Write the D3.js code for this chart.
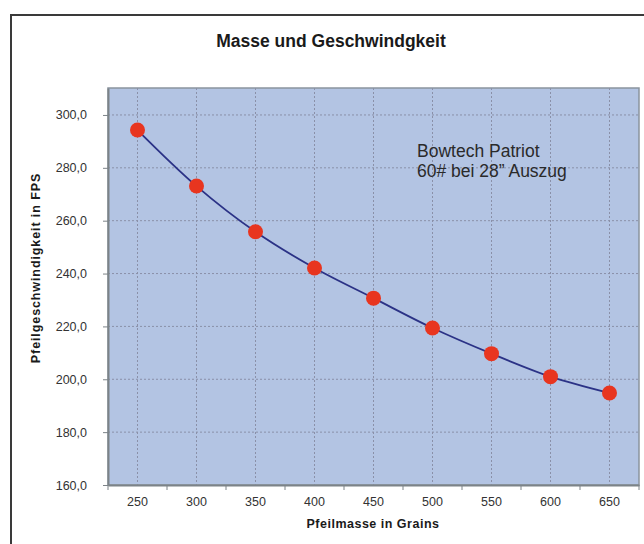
<!DOCTYPE html>
<html>
<head>
<meta charset="utf-8">
<script src="https://cdn.jsdelivr.net/npm/d3@7"></script>
<style>
  body { margin: 0; background: #fff; }
  text { font-family: "Liberation Sans", Arial, sans-serif; }
</style>
</head>
<body>
<div id="chart"></div>
<script>
// Data
const masses = [250, 300, 350, 400, 450, 500, 550, 600, 650];
const speeds = [294.3, 273.1, 255.8, 242.1, 230.7, 219.4, 209.7, 201.0, 194.8];
const yTicks = [160, 180, 200, 220, 240, 260, 280, 300];

const width = 644, height = 544;
const margin = { top: 88, right: 5, bottom: 59, left: 108 };
const innerW = width - margin.left - margin.right;
const innerH = height - margin.top - margin.bottom;

const svg = d3.select('#chart')
    .append('svg')
    .attr('width', width)
    .attr('height', height);

// outer frame
svg.append('rect')
    .attr('x', 11).attr('y', 15)
    .attr('width', 660).attr('height', 560)
    .attr('fill', 'none')
    .attr('stroke', '#3a3a3a')
    .attr('stroke-width', 2);

svg.append('text')
    .attr('x', 331).attr('y', 47)
    .attr('text-anchor', 'middle')
    .attr('font-size', 17.5)
    .attr('font-weight', 'bold')
    .attr('fill', '#1a1a1a')
    .text('Masse und Geschwindgkeit');

const g = svg.append('g')
    .attr('transform', `translate(${margin.left},${margin.top})`);

// Scales
const xScale = d3.scaleBand()
    .domain(masses)
    .range([0, innerW]);

const yScale = d3.scaleLinear()
    .domain([160, 310.2])
    .range([innerH, 0]);

const cx = d => xScale(d) + xScale.bandwidth() / 2;

// plot area
g.append('rect')
    .attr('width', innerW)
    .attr('height', innerH)
    .attr('fill', '#b3c4e3')
    .attr('stroke', '#8a949e')
    .attr('stroke-width', 1.5);

// grid
g.selectAll('.hgrid')
    .data(yTicks.slice(1))
    .join('line')
    .attr('x1', 0).attr('x2', innerW)
    .attr('y1', d => yScale(d)).attr('y2', d => yScale(d))
    .attr('stroke', '#8a90a8')
    .attr('stroke-dasharray', '2,2');

g.selectAll('.vgrid')
    .data(masses)
    .join('line')
    .attr('x1', d => cx(d)).attr('x2', d => cx(d))
    .attr('y1', 0).attr('y2', innerH)
    .attr('stroke', '#8a90a8')
    .attr('stroke-dasharray', '2,2');

// Axes
const yAxis = d3.axisLeft(yScale)
    .tickValues(yTicks)
    .tickFormat(d => d3.format('.1f')(d).replace('.', ','))
    .tickSizeInner(5)
    .tickSizeOuter(0)
    .tickPadding(16);

const yAxisDraw = g.append('g').call(yAxis);
yAxisDraw.select('.domain').attr('stroke', '#7c8388').attr('stroke-width', 2);
yAxisDraw.selectAll('line').attr('stroke', '#7c8388');
yAxisDraw.selectAll('text').attr('font-size', 12.5).attr('fill', '#333')
    .attr('font-family', '"Liberation Sans", Arial, sans-serif');

const xAxisDraw = g.append('g')
    .attr('transform', `translate(0,${innerH})`)
    .call(d3.axisBottom(xScale).tickSize(0).tickPadding(12));
xAxisDraw.select('.domain').attr('stroke', '#7c8388').attr('stroke-width', 2);
xAxisDraw.selectAll('text').attr('font-size', 12.5).attr('fill', '#333')
    .attr('font-family', '"Liberation Sans", Arial, sans-serif');

// ticks between categories
g.selectAll('.xtick')
    .data(masses.concat([null]))
    .join('line')
    .attr('x1', (d, i) => i * xScale.step()).attr('x2', (d, i) => i * xScale.step())
    .attr('y1', innerH).attr('y2', innerH + 5)
    .attr('stroke', '#7c8388');

// Line
const line = d3.line()
    .x((d, i) => cx(masses[i]))
    .y(d => yScale(d))
    .curve(d3.curveCatmullRom.alpha(0.5));

g.append('path')
    .datum(speeds)
    .attr('d', line)
    .attr('fill', 'none')
    .attr('stroke', '#2b3286')
    .attr('stroke-width', 1.8);

g.selectAll('.dot')
    .data(speeds)
    .join('circle')
    .attr('cx', (d, i) => cx(masses[i]))
    .attr('cy', d => yScale(d))
    .attr('r', 7.5)
    .attr('fill', '#e8351f');

// Annotation
const note = g.append('text')
    .attr('x', 417 - margin.left)
    .attr('y', 157 - margin.top)
    .attr('font-size', 17.5)
    .attr('fill', '#2a2a2a');
note.append('tspan').text('Bowtech Patriot');
note.append('tspan').attr('x', 417 - margin.left).attr('dy', 20).text('60# bei 28\u201D Auszug');

// Axis titles
svg.append('text')
    .attr('x', 373).attr('y', 528)
    .attr('text-anchor', 'middle')
    .attr('font-size', 12.5)
    .attr('font-weight', 'bold')
    .attr('letter-spacing', 0.5)
    .attr('fill', '#1a1a1a')
    .text('Pfeilmasse in Grains');

svg.append('text')
    .attr('transform', 'translate(40,268) rotate(-90)')
    .attr('text-anchor', 'middle')
    .attr('font-size', 12.5)
    .attr('font-weight', 'bold')
    .attr('letter-spacing', 0.9)
    .attr('fill', '#1a1a1a')
    .text('Pfeilgeschwindigkeit in FPS');
</script>
</body>
</html>
